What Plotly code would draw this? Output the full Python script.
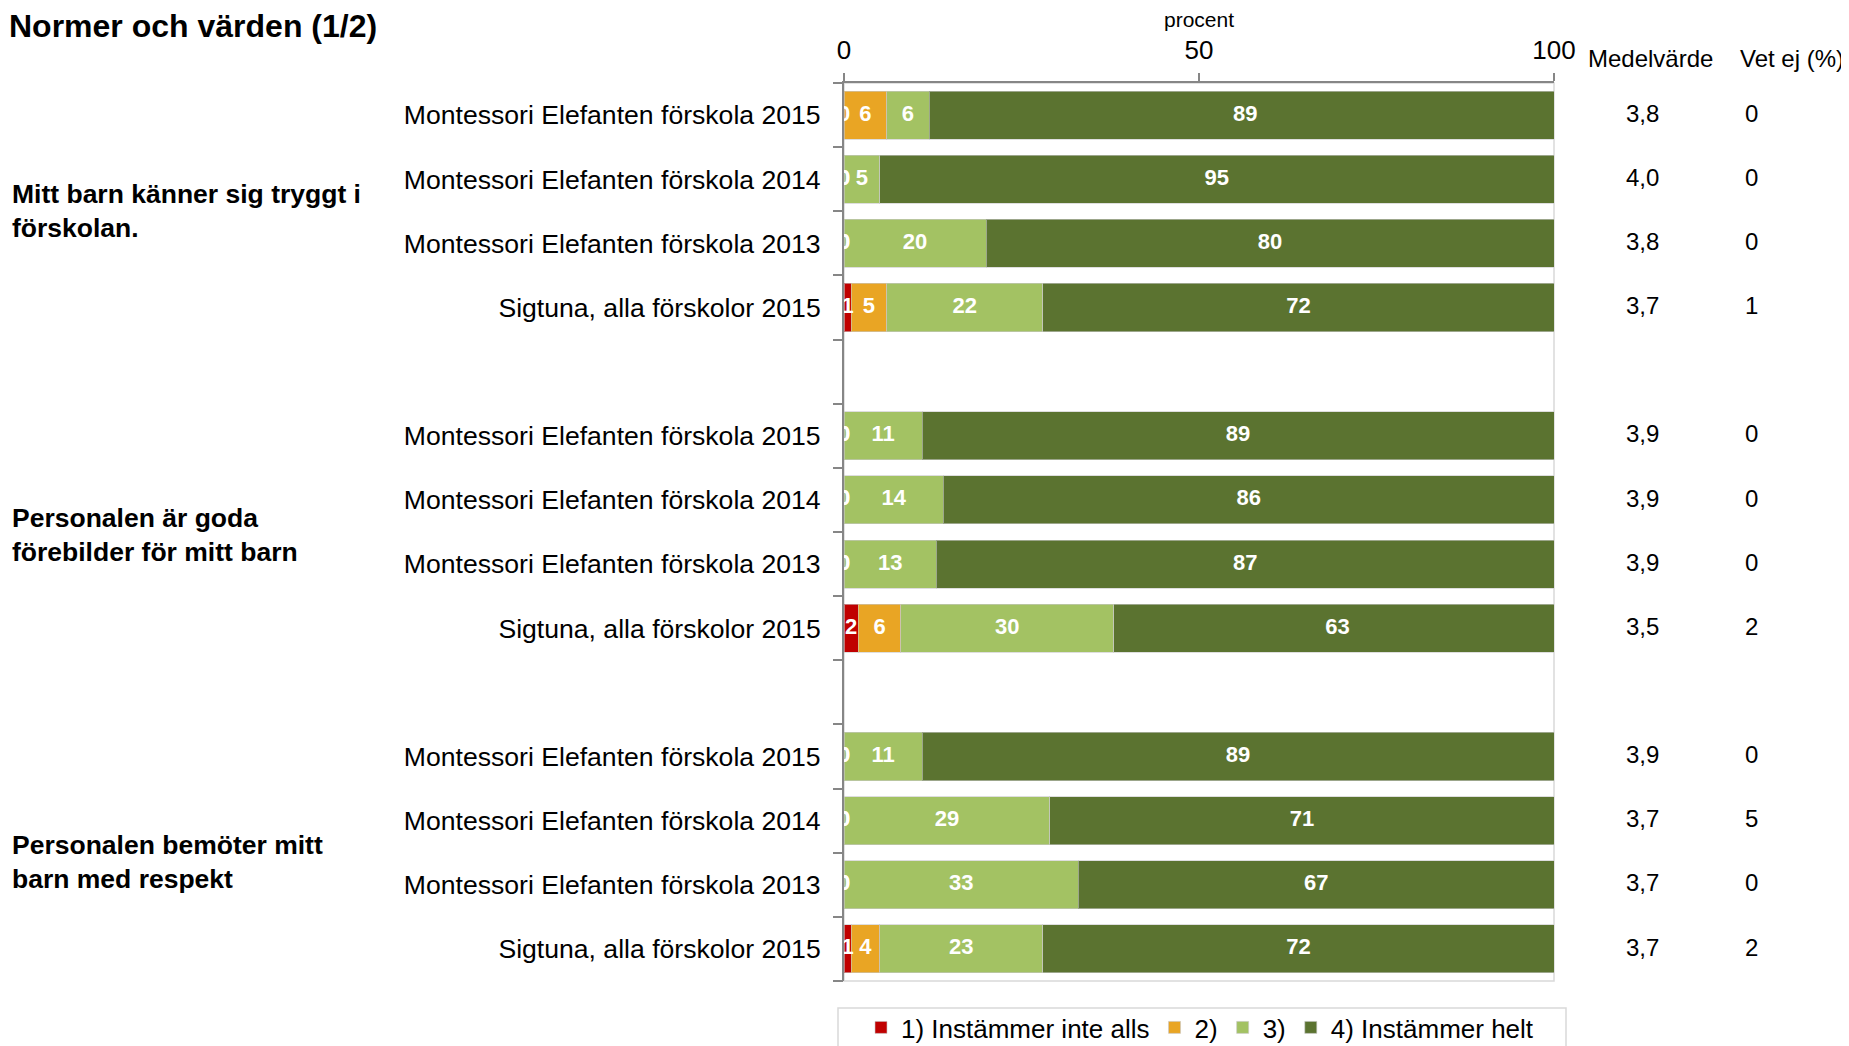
import plotly.graph_objects as go

# ---------------- data ----------------
title_text = "Normer och värden (1/2)"
groups = [
    "Mitt barn känner sig tryggt i<br>förskolan.",
    "Personalen är goda<br>förebilder för mitt barn",
    "Personalen bemöter mitt<br>barn med respekt",
]
units = [
    "Montessori Elefanten förskola 2015",
    "Montessori Elefanten förskola 2014",
    "Montessori Elefanten förskola 2013",
    "Sigtuna, alla förskolor 2015",
]
series_names = ["1) Instämmer inte alls", "2)", "3)", "4) Instämmer helt"]
series_colors = ["#C00000", "#E9A524", "#A3C263", "#5B7330"]

s1 = [0, 0, 0, 1, 0, 0, 0, 2, 0, 0, 0, 1]
s2 = [6, 0, 0, 5, 0, 0, 0, 6, 0, 0, 0, 4]
s3 = [6, 5, 20, 22, 11, 14, 13, 30, 11, 29, 33, 23]
s4 = [89, 95, 80, 72, 89, 86, 87, 63, 89, 71, 67, 72]

medel = ["3,8", "4,0", "3,8", "3,7", "3,9", "3,9", "3,9", "3,5", "3,9", "3,7", "3,7", "3,7"]
vet_ej = ["0", "0", "0", "1", "0", "0", "0", "2", "0", "5", "0", "2"]

x_ticks = [0, 50, 100]

# ---------------- layout helpers ----------------
W, H = 1849, 1046
OFF = 8  # page body margin offset
FONT = "Arial, Liberation Sans, Helvetica, sans-serif"
n_per = len(units)
slot = n_per + 1
ypos = [g * slot + j for g in range(len(groups)) for j in range(n_per)]
ylabels = [u for g in range(len(groups)) for u in units]
n_slots = len(groups) * slot - 1
yrange = [n_slots - 0.5, -0.5]


def px(x):
    return (x - OFF) / W


def py(y):
    return 1 - (y - OFF) / H


fig = go.Figure()
all_series = [s1, s2, s3, s4]
for name, col, vals in zip(series_names, series_colors, all_series):
    fig.add_trace(go.Bar(
        y=ypos, x=vals, orientation="h", name=name,
        marker=dict(color=col, line=dict(color="rgba(200,200,200,0.6)", width=1)),
        hoverinfo="x+name",
    ))

# value labels centred in each segment (clipped at the axis like the original)
lx, ly, lt = [], [], []
for i in range(len(ypos)):
    acc = 0
    for vals in all_series:
        v = vals[i]
        lx.append(acc + v / 2)
        ly.append(ypos[i])
        lt.append(str(v))
        acc += v
fig.add_trace(go.Scatter(
    x=lx, y=ly, text=lt, mode="text", showlegend=False, hoverinfo="skip",
    textfont=dict(family=FONT, size=22, color="white", weight="bold"),
    cliponaxis=True,
))

# boundary ticks axis (invisible trace to activate y2)
fig.add_trace(go.Scatter(x=[None], y=[None], yaxis="y2", showlegend=False, hoverinfo="skip"))

dom_x = [px(844), px(1554)]
dom_y = [py(981), py(83)]

fig.update_layout(
    width=W, height=H,
    margin=dict(l=0, r=0, t=0, b=0, autoexpand=False),
    paper_bgcolor="white", plot_bgcolor="white",
    barmode="stack", bargap=0.25,
    font=dict(family=FONT, size=26, color="black"),
    xaxis=dict(domain=dom_x, range=[0, 100], side="top", tickvals=x_ticks,
               ticks="outside", ticklen=8, tickwidth=1.5, tickcolor="#868686",
               showline=True, linecolor="#868686", linewidth=2,
               showgrid=False, zeroline=False, ticklabelstandoff=4,
               tickfont=dict(size=26), automargin=False,
               title=dict(text="procent", font=dict(size=21), standoff=4)),
    yaxis=dict(domain=dom_y, range=yrange, tickvals=ypos, ticktext=ylabels,
               ticks="", showline=True, linecolor="#868686", linewidth=2,
               showgrid=False, zeroline=False, ticklabelstandoff=16,
               tickfont=dict(size=26.6), automargin=False),
    yaxis2=dict(overlaying="y", anchor="x", side="left", range=yrange,
                tickvals=[k - 0.5 for k in range(n_slots + 1)],
                ticks="outside", ticklen=10, tickwidth=1.5, tickcolor="#868686",
                showticklabels=False, showgrid=False, zeroline=False, showline=False,
                automargin=False),
    legend=dict(orientation="h", x=px(1200), xanchor="center",
                y=py(1004), yanchor="top", traceorder="normal",
                borderwidth=0, bgcolor="rgba(0,0,0,0)",
                font=dict(size=26), itemwidth=30),
    showlegend=True,
)

# title (as annotation so it stays inside the figure)
fig.add_annotation(text=f"<b>{title_text}</b>", xref="paper", yref="paper",
                   x=px(8), y=py(7), xanchor="left", yanchor="top", showarrow=False,
                   borderpad=0, font=dict(size=32, family=FONT, color="black"))

# light plot-area border (right & bottom)
fig.add_shape(type="rect", xref="x domain", yref="y domain", x0=0, x1=1, y0=0, y1=1,
              line=dict(color="#D9D9D9", width=1.5), layer="below")

# legend frame
fig.add_shape(type="rect", xref="paper", yref="paper", x0=px(838), x1=px(1566),
              y0=py(1070), y1=py(1008), line=dict(color="#D9D9D9", width=1.5), layer="below")

# group labels
nudges = [0.0, 0.05, 0.15]
for g, txt in enumerate(groups):
    yc = g * slot + (n_per - 1) / 2 + nudges[g]
    fig.add_annotation(text=f"<b>{txt}</b>", xref="paper", yref="y", x=px(10), y=yc,
                       xanchor="left", yanchor="middle", align="left", showarrow=False,
                       font=dict(size=26.5, family=FONT, color="black"))

# column headers
fig.add_annotation(text="Medelvärde", xref="paper", yref="paper", x=px(1650), y=py(58),
                   xanchor="center", yanchor="middle", showarrow=False, font=dict(size=24))
fig.add_annotation(text="Vet ej (%)", xref="paper", yref="paper", x=px(1792), y=py(58),
                   xanchor="center", yanchor="middle", showarrow=False, font=dict(size=24))

for p, m, v in zip(ypos, medel, vet_ej):
    fig.add_annotation(text=m, xref="paper", yref="y", x=px(1642), y=p - 0.03,
                       xanchor="center", yanchor="middle", showarrow=False, font=dict(size=24))
    fig.add_annotation(text=v, xref="paper", yref="y", x=px(1751), y=p - 0.03,
                       xanchor="center", yanchor="middle", showarrow=False, font=dict(size=24))

fig.write_html("out.html")
